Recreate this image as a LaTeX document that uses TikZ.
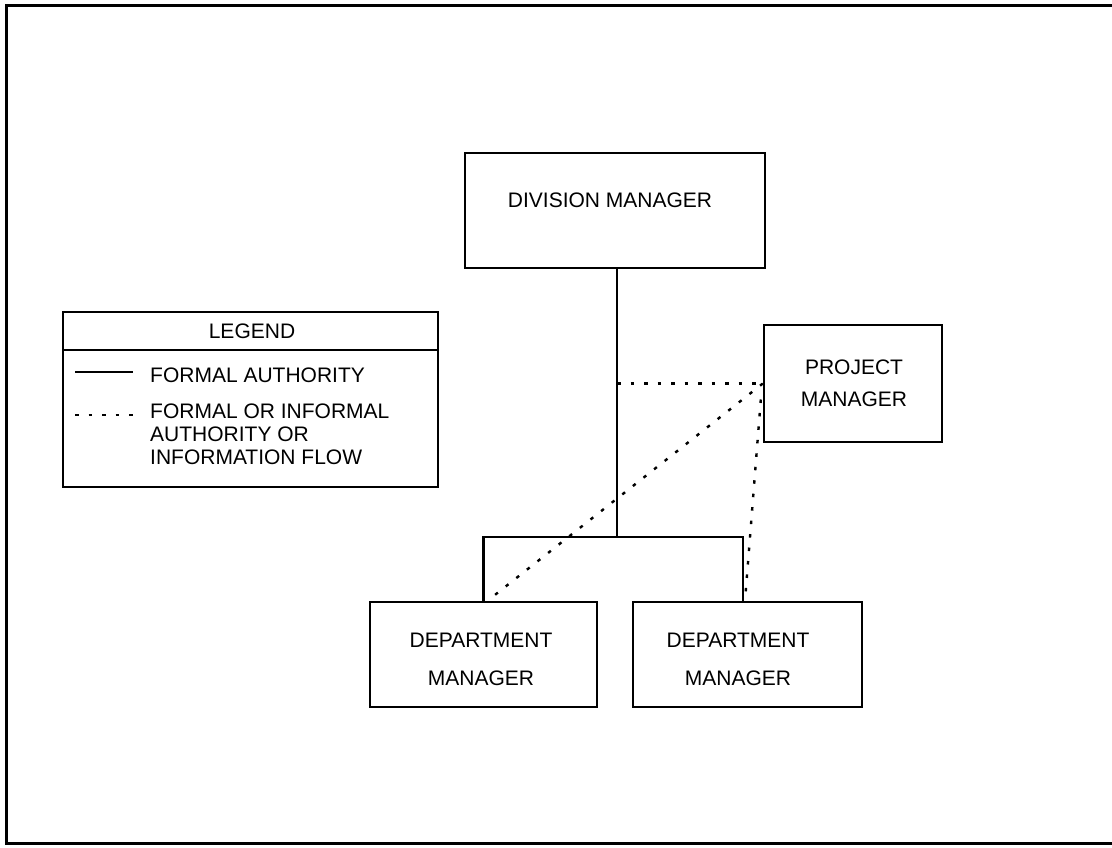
\documentclass[tikz,border=0pt]{standalone}
\usepackage{fontspec}
\setmainfont{Liberation Sans}
\begin{document}
\begin{tikzpicture}[x=1pt,y=-1pt,
  box/.style={draw, line width=2.4pt, rectangle, inner sep=0pt},
  lbl/.style={font=\fontsize{21}{25}\selectfont, inner sep=0pt, align=center},
  formal/.style={line width=2.6pt},
  informal/.style={line width=2.4pt, dash pattern=on 3.5pt off 10pt},
  frame/.style={line width=3pt}]
\useasboundingbox (0,0) rectangle (1112,848);
\draw[frame] (1112,6) -- (6,6) -- (6,843) -- (1112,843);

% boxes
\node[box, minimum width=300pt, minimum height=115pt] (dm) at (615,210.5) {};
\node[lbl] (dmt) at (610,200) {DIVISION MANAGER};
\node[box, minimum width=178pt, minimum height=117pt] (pm) at (853,383.5) {};
\node[lbl, font=\fontsize{21}{32}\selectfont] (pmt) at (854,383) {PROJECT\\MANAGER};
\node[box, minimum width=227pt, minimum height=105pt] (dl) at (483.5,654.5) {};
\node[lbl, font=\fontsize{21}{38}\selectfont] (dlt) at (481,659) {DEPARTMENT\\MANAGER};
\node[box, minimum width=229pt, minimum height=105pt] (dr) at (747.5,654.5) {};
\node[lbl, font=\fontsize{21}{38}\selectfont] (drt) at (738,659) {DEPARTMENT\\MANAGER};

% legend
\node[box, minimum width=375pt, minimum height=175pt] (lg) at (250.5,399.5) {};
\coordinate (sepL) at (63,350);
\coordinate (sepR) at (438,350);
\draw[line width=2.2pt] (sepL) -- (sepR);
\node[lbl] (lgt) at (252,331) {LEGEND};
\coordinate (s1a) at (75,372); \coordinate (s1b) at (133,372);
\draw[formal] (s1a) -- (s1b);
\node[lbl, anchor=west] (l1) at (150,375) {FORMAL AUTHORITY};
\coordinate (s2a) at (75,415); \coordinate (s2b) at (135,415);
\draw[informal] (s2a) -- (s2b);
\node[lbl, anchor=north west, align=left, font=\fontsize{21}{23}\selectfont] (l2) at (150,404) {FORMAL OR INFORMAL\\AUTHORITY OR\\INFORMATION FLOW};

% formal authority connectors
\coordinate (j) at (617,537);
\coordinate (rr) at (743,537);
\draw[formal] (j |- dm.south) -- (j);
\draw[formal] (dl.north) |- (rr) -- (rr |- dr.north);

% informal connectors
\draw[informal] (j |- pm.west) -- (pm.west);
\draw[informal] (pm.west) -- ([xshift=4pt]dl.north);
\draw[informal] ([yshift=-16pt,xshift=-2pt]pm.west) -- ([xshift=2pt]rr |- dr.north);
\end{tikzpicture}
\end{document}
